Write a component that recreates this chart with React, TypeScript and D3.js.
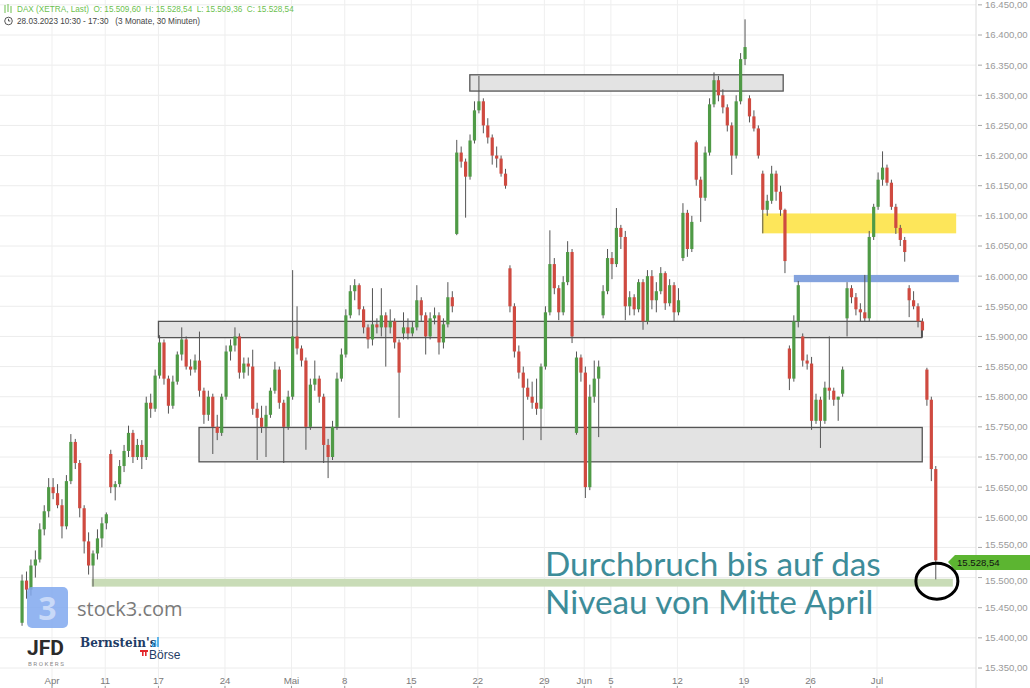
import * as d3 from 'd3';
import { useEffect } from 'react';

// date ticks, as trading-day numbers (0 = 30.03.2023)
const tickLabels = ['Apr', '11', '17', '24', 'Mai', '8', '15', '22', '29', 'Jun', '5', '12', '19', '26', 'Jul'];
const tickDays = [2, 6, 10, 15, 20, 24, 29, 34, 39, 42, 44, 49, 54, 59, 64];

// candles are sampled three per trading day, starting a quarter day before day 0
const firstSlotDay = -0.25;
const slotsPerDay = 3;

// [open, high, low, close]
type Bar = [number, number, number, number];

const aprilBars: Bar[] = [
  [15425, 15505, 15420, 15495], [15495, 15510, 15465, 15480], [15480, 15530, 15470, 15520],
  [15520, 15545, 15500, 15530], [15530, 15590, 15525, 15580], [15580, 15620, 15570, 15610],
  [15610, 15665, 15600, 15650], [15650, 15665, 15630, 15640], [15640, 15655, 15615, 15620],
  [15620, 15630, 15565, 15585], [15585, 15670, 15580, 15660], [15660, 15738, 15655, 15725],
  [15725, 15730, 15680, 15690], [15690, 15695, 15600, 15615], [15615, 15620, 15540, 15560],
  [15560, 15575, 15505, 15520], [15520, 15545, 15485, 15540], [15540, 15580, 15530, 15565],
  [15565, 15600, 15550, 15590], [15590, 15608, 15580, 15605], [15705, 15712, 15640, 15650],
  [15650, 15660, 15628, 15655], [15655, 15695, 15650, 15685], [15685, 15720, 15675, 15710],
  [15710, 15752, 15700, 15740], [15740, 15745, 15690, 15700], [15700, 15730, 15695, 15720],
  [15720, 15728, 15680, 15700], [15700, 15800, 15695, 15790], [15790, 15805, 15765, 15780],
  [15780, 15845, 15775, 15835], [15835, 15902, 15830, 15890], [15890, 15895, 15820, 15830],
  [15830, 15835, 15772, 15785], [15785, 15835, 15780, 15825], [15825, 15875, 15820, 15870],
  [15870, 15915, 15860, 15895], [15895, 15900, 15845, 15850], [15850, 15862, 15835, 15845],
  [15845, 15870, 15840, 15860], [15860, 15908, 15800, 15810], [15810, 15815, 15755, 15770],
  [15770, 15810, 15760, 15800], [15800, 15805, 15705, 15750], [15750, 15770, 15728, 15740],
  [15740, 15805, 15735, 15800], [15800, 15885, 15795, 15875], [15875, 15895, 15860, 15885],
  [15885, 15915, 15875, 15900], [15900, 15905, 15830, 15840], [15840, 15865, 15830, 15855],
  [15855, 15865, 15835, 15850], [15850, 15878, 15770, 15780], [15780, 15790, 15695, 15765],
  [15765, 15785, 15740, 15750], [15750, 15785, 15700, 15770], [15770, 15815, 15765, 15810],
  [15810, 15858, 15805, 15845], [15845, 15850, 15780, 15790], [15790, 15795, 15690, 15750],
  [15750, 15810, 15745, 15800],
];

const mayBars: Bar[] = [
  [15800, 16010, 15795, 15900], [15900, 15950, 15870, 15880], [15880, 15885, 15850, 15860],
  [15860, 15865, 15712, 15750], [15750, 15830, 15745, 15820], [15820, 15860, 15810, 15830],
  [15830, 15835, 15790, 15800], [15800, 15805, 15690, 15720], [15720, 15730, 15665, 15700],
  [15700, 15760, 15695, 15750], [15750, 15840, 15745, 15830], [15830, 15880, 15825, 15870],
  [15870, 15945, 15865, 15935], [15935, 15985, 15930, 15975], [15975, 15995, 15960, 15985],
  [15985, 15988, 15935, 15945], [15945, 15950, 15905, 15915], [15915, 15920, 15880, 15895],
  [15895, 15980, 15885, 15920], [15920, 15930, 15905, 15915], [15915, 15980, 15900, 15935],
  [15935, 15940, 15850, 15915], [15915, 15945, 15905, 15925], [15925, 15930, 15880, 15890],
  [15890, 15895, 15765, 15840], [15905, 15940, 15895, 15915], [15915, 15930, 15895, 15905],
  [15905, 15925, 15900, 15915], [15915, 15985, 15910, 15960], [15960, 15965, 15925, 15935],
  [15935, 15940, 15870, 15900], [15900, 15940, 15895, 15930], [15930, 15948, 15920, 15935],
  [15935, 15940, 15870, 15890], [15890, 15930, 15880, 15920], [15920, 15990, 15915, 15965],
  [15965, 15975, 15940, 15950], [16070, 16226, 16068, 16205], [16205, 16215, 16180, 16190],
  [16190, 16195, 16097, 16165], [16165, 16235, 16160, 16225], [16225, 16290, 16220, 16275],
  [16275, 16332, 16270, 16290], [16290, 16295, 16237, 16250], [16250, 16262, 16220, 16230],
  [16230, 16235, 16185, 16200], [16200, 16215, 16180, 16195], [16195, 16200, 16165, 16170],
  [16170, 16178, 16145, 16150], [16013, 16018, 15940, 15950], [15950, 15955, 15865, 15875],
  [15875, 15885, 15830, 15840], [15840, 15850, 15728, 15815], [15815, 15830, 15795, 15800],
  [15800, 15825, 15780, 15790], [15790, 15830, 15770, 15780], [15780, 15855, 15728, 15850],
  [15850, 15950, 15845, 15940], [15940, 16076, 15935, 16020], [16020, 16030, 15970, 15980],
  [15980, 15985, 15927, 15940], [15940, 16000, 15935, 15990], [15990, 16058, 15985, 16040],
  [16040, 16045, 15889, 15900], [15740, 15875, 15737, 15865], [15865, 15870, 15825, 15840],
  [15840, 15850, 15632, 15650],
];

const juneBars: Bar[] = [
  [15650, 15820, 15645, 15800], [15800, 15860, 15790, 15830], [15830, 15860, 15733, 15850],
  [15935, 15985, 15930, 15975], [15975, 16045, 15970, 16030], [16030, 16040, 15995, 16020],
  [16020, 16113, 16015, 16080], [16080, 16085, 16045, 16065], [16065, 16075, 15927, 15950],
  [15950, 15975, 15935, 15965], [15965, 15970, 15935, 15945], [15945, 15995, 15940, 15990],
  [15990, 15995, 15911, 15925], [15925, 16010, 15920, 16000], [16000, 16010, 15945, 15960],
  [15960, 15990, 15940, 15975], [15975, 16015, 15970, 16005], [16005, 16008, 15944, 15955],
  [15955, 15995, 15950, 15985], [15985, 15990, 15925, 15940], [15940, 15980, 15935, 15960],
  [16030, 16121, 16025, 16105], [16105, 16110, 16032, 16045], [16045, 16100, 16040, 16090],
  [16222, 16225, 16150, 16160], [16160, 16165, 16090, 16130], [16130, 16215, 16125, 16205],
  [16205, 16295, 16200, 16285], [16285, 16338, 16280, 16325], [16325, 16332, 16290, 16300],
  [16300, 16310, 16270, 16280], [16280, 16285, 16240, 16250], [16250, 16255, 16168, 16200],
  [16200, 16300, 16195, 16290], [16290, 16370, 16285, 16360], [16360, 16426, 16350, 16380],
  [16295, 16300, 16255, 16265], [16265, 16275, 16240, 16245], [16245, 16250, 16195, 16200],
  [16170, 16175, 16071, 16110], [16110, 16135, 16100, 16125], [16125, 16183, 16120, 16170],
  [16170, 16175, 16125, 16140], [16140, 16150, 16100, 16110], [16110, 16112, 16005, 16025],
  [15880, 15885, 15811, 15830], [15830, 15935, 15825, 15925], [15925, 15992, 15915, 15985],
  [15900, 15905, 15850, 15860], [15860, 15870, 15845, 15855], [15855, 15866, 15745, 15760],
  [15760, 15805, 15755, 15795], [15795, 15800, 15715, 15760], [15760, 15825, 15755, 15815],
  [15815, 15900, 15795, 15810], [15810, 15815, 15785, 15795], [15795, 15800, 15760, 15800],
  [15805, 15850, 15800, 15845], [15930, 15990, 15900, 15980], [15980, 15985, 15955, 15965],
  [15965, 15972, 15935, 15945], [15945, 15955, 15925, 15940], [15940, 16002, 15925, 15930],
  [15930, 16075, 15925, 16065], [16065, 16120, 16060, 16115],
];

const julyBars: Bar[] = [
  [16115, 16172, 16110, 16160], [16160, 16207, 16150, 16180], [16180, 16185, 16150, 16155],
  [16155, 16160, 16110, 16115], [16115, 16120, 16070, 16080], [16080, 16085, 16050, 16060],
  [16060, 16065, 16024, 16040], [15980, 15985, 15932, 15960], [15960, 15975, 15945, 15950],
  [15950, 15955, 15915, 15925], [15925, 15930, 15898, 15910], [15845, 15848, 15785, 15795],
  [15795, 15800, 15660, 15680], [15680, 15685, 15497, 15528.54],
];

// drawn zones: price band and day span
const greyZones = [
  { low: 16307, high: 16334, fromDay: 33.4, toDay: 56.95 },
  { low: 15898, high: 15925, fromDay: 10.0, toDay: 67.35 },
  { low: 15692, high: 15749, fromDay: 13.05, toDay: 67.4 },
];
const yellowZone = { low: 16071, high: 16104, fromDay: 55.35, toDay: 69.95 };
const blueZone = { low: 15990, high: 16002, fromDay: 57.75, toDay: 70.15 };
const greenZone = { low: 15485, high: 15498, fromDay: 4.98, toDay: 69.7 };
const markerPoint = { day: 68.5, price: 15494 };

const lastPrice = 15528.54;
const headerQuote = { open: 15509.6, high: 15528.54, low: 15509.36, close: 15528.54 };
const annotationLines = ['Durchbruch bis auf das', 'Niveau von Mitte April'];

const W = 1030;
const H = 688;
const axisX = 976;

const de = d3.formatLocale({ decimal: ',', thousands: '.', grouping: [3], currency: ['', ' €'] });
const fmt = de.format(',.2f');

const x = d3.scaleLinear().domain([tickDays[0], tickDays[tickDays.length - 1]]).range([52, 877]);
const y = d3.scaleLinear().domain([15350, 16400]).range([668, 35]);
const priceTicks = d3.range(15350, 16451, 50);

const UP = '#4f9a46';
const DOWN = '#cf4a40';
const WICK = '#555';
const AXIS_FONT = 'Liberation Sans, Arial, sans-serif';

const App = () => {
  useEffect(() => {
    document.body.style.margin = '0';
  }, []);

  const bars = [...aprilBars, ...mayBars, ...juneBars, ...julyBars];
  const bodyW = 3.2;

  const zoneRect = (z: { low: number; high: number; fromDay: number; toDay: number }) => ({
    x: x(z.fromDay),
    y: y(z.high),
    width: x(z.toDay) - x(z.fromDay),
    height: y(z.low) - y(z.high),
  });

  return (
    <svg width={W} height={H} style={{ display: 'block', background: '#fff' }}>
      {/* grid */}
      <g>
        {priceTicks.map((p) => (
          <line key={p} x1={0} x2={axisX} y1={y(p)} y2={y(p)} stroke="#ececec" strokeWidth={1} />
        ))}
        {tickDays.map((d) => (
          <line key={d} x1={x(d)} x2={x(d)} y1={0} y2={H} stroke="#efefef" strokeWidth={1} />
        ))}
      </g>

      {/* right price axis */}
      <line x1={axisX} x2={axisX} y1={0} y2={H} stroke="#dcdcdc" />
      {priceTicks.map((p) => {
        let ty = y(p);
        if (p === 15550) ty -= 3;
        if (p === 15500) ty += 3;
        return (
          <g key={p}>
            <line x1={axisX + 2} x2={axisX + 6} y1={y(p)} y2={y(p)} stroke="#aaa" />
            <text x={985} y={ty} dy="0.35em" fontSize={9.6} fill="#9a9a9a" fontFamily={AXIS_FONT}>
              {fmt(p)}
            </text>
          </g>
        );
      })}

      {/* date axis */}
      {tickDays.map((d, i) => (
        <g key={d}>
          <text x={x(d)} y={684} textAnchor="middle" fontSize={9.6} fill="#7a7a7a" fontFamily={AXIS_FONT}>
            {tickLabels[i]}
          </text>
          <line x1={x(d)} x2={x(d)} y1={686} y2={688} stroke="#999" />
        </g>
      ))}

      {/* zones */}
      {greyZones.map((z, i) => (
        <rect key={i} {...zoneRect(z)} fill="#e3e3e3" stroke="#555" strokeWidth={1.3} />
      ))}
      <rect {...zoneRect(yellowZone)} fill="#fde65a" />
      <rect {...zoneRect(blueZone)} fill="#84a3de" />
      <rect {...zoneRect(greenZone)} fill="#c9dcb7" />

      {/* candles */}
      <g>
        {bars.map(([o, h, l, c], i) => {
          const cx = x(firstSlotDay + i / slotsPerDay);
          const top = y(Math.max(o, c));
          const bh = Math.max(0.8, y(Math.min(o, c)) - top);
          return (
            <g key={i}>
              <line x1={cx} x2={cx} y1={y(h)} y2={y(l)} stroke={WICK} strokeWidth={1} />
              <rect x={cx - bodyW / 2} y={top} width={bodyW} height={bh} fill={c >= o ? UP : DOWN} />
            </g>
          );
        })}
      </g>

      {/* marker circle */}
      <ellipse cx={x(markerPoint.day)} cy={y(markerPoint.price)} rx={21} ry={18} fill="none" stroke="#000" strokeWidth={3} />

      {/* annotation */}
      <g fontFamily="Lato, sans-serif" fontSize={33.3} fill="#3d8c99">
        <text x={545} y={576}>{annotationLines[0]}</text>
        <text x={545} y={614}>{annotationLines[1]}</text>
      </g>

      {/* last price tag */}
      <polygon points="948,562 955,555 1030,555 1030,570 955,570" fill="#5cb531" />
      <text x={957} y={566} fontSize={9.6} fill="#111" fontFamily={AXIS_FONT}>
        {fmt(lastPrice)}
      </text>

      {/* header */}
      <g>
        <g stroke="#6cbf4f" strokeWidth={1}>
          <line x1={5} x2={5} y1={5} y2={13} />
          <line x1={8} x2={8} y1={4} y2={12} />
          <line x1={11} x2={11} y1={6} y2={13} />
        </g>
        <text x={17} y={12} fontSize={8.2} fill="#6cbf4f" fontFamily={AXIS_FONT} style={{ whiteSpace: 'pre' }}>
          {`DAX (XETRA, Last)  O: ${fmt(headerQuote.open)}  H: ${fmt(headerQuote.high)}  L: ${fmt(headerQuote.low)}  C: ${fmt(headerQuote.close)}`}
        </text>
        <circle cx={8.5} cy={21} r={3.8} fill="none" stroke="#444" strokeWidth={0.9} />
        <path d="M8.5 18.8 V21 H10.3" fill="none" stroke="#444" strokeWidth={0.9} />
        <text x={17} y={24} fontSize={8.2} fill="#444" fontFamily={AXIS_FONT} style={{ whiteSpace: 'pre' }}>
          {'28.03.2023 10:30 - 17:30   (3 Monate, 30 Minuten)'}
        </text>
      </g>

      {/* watermarks */}
      <g>
        <rect x={27} y={587} width={41} height={41} rx={5} fill="#80a8ef" opacity={0.85} />
        <text x={47.5} y={620} textAnchor="middle" fontSize={32} fontWeight="bold" fill="#c8d9f8" fontFamily="Open Sans, sans-serif">
          3
        </text>
        <text x={77} y={616} fontSize={20} fill="#7a7a7a" fontFamily="Open Sans, sans-serif">
          stock3.com
        </text>
        <text x={27} y={655} fontSize={21} fontWeight="bold" fill="#2b2b2b" fontFamily="Roboto, sans-serif">
          JFD
        </text>
        <text x={28} y={666} fontSize={6.2} fill="#8a8a8a" letterSpacing={1.5} fontFamily="Roboto, sans-serif">
          BROKERS
        </text>
        <text x={80} y={647} fontSize={12} fontWeight="bold" fill="#1f3c66" fontFamily="DejaVu Serif, serif">
          Bernstein's
        </text>
        <g fill="#3aa6e8">
          <rect x={152} y={643} width={1.6} height={4} />
          <rect x={154.6} y={640} width={1.6} height={7} />
          <rect x={157.2} y={637} width={1.6} height={10} />
        </g>
        <g fill="#e3262b">
          <rect x={140} y={650} width={8} height={2} />
          <rect x={142} y={650} width={1.6} height={6} />
          <rect x={145} y={650} width={1.6} height={6} />
        </g>
        <text x={149} y={659} fontSize={12} fill="#1f3c66" fontFamily="Liberation Sans, Arial, sans-serif">
          Börse
        </text>
      </g>
    </svg>
  );
};

export default App;
